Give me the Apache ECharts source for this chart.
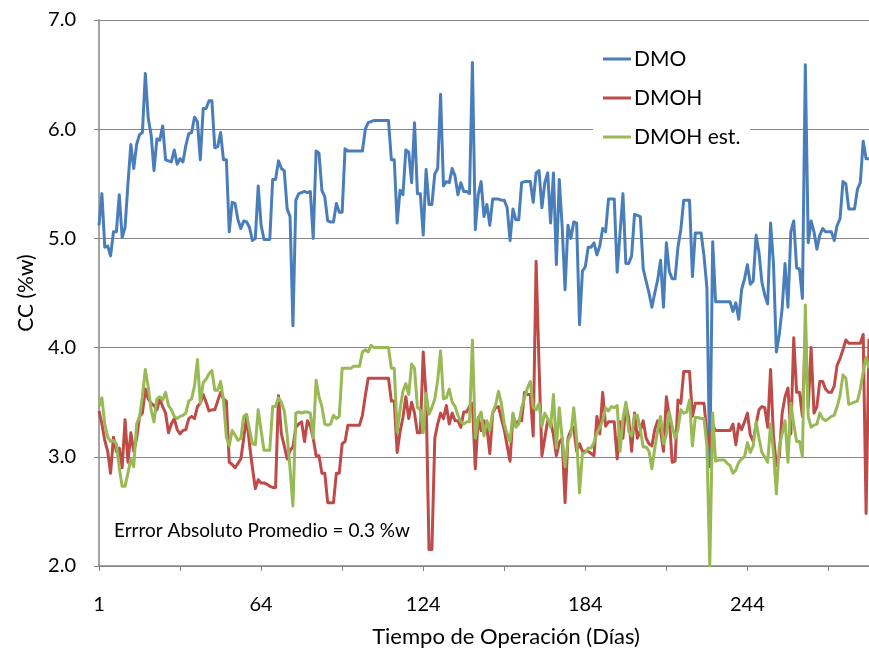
<!DOCTYPE html>
<html>
<head>
<meta charset="utf-8">
<script src="https://cdn.jsdelivr.net/npm/echarts@6/dist/echarts.min.js"></script>
<style>
html,body{margin:0;padding:0;background:#fff;}
#chart{width:869px;height:655px;}
</style>
</head>
<body>
<div id="chart"></div>
<script>
// Operating days (categories; some days have no sample)
const days = [1,
5,6,7,8,9,10,11,12,13,14,15,16,17,18,19,
21,22,23,24,25,26,27,28,29,30,31,32,33,34,
36,37,38,39,40,41,42,43,44,45,46,
48,49,50,51,52,53,54,55,56,57,
59,60,61,62,63,64,
65,66,67,68,69,70,71,72,73,74,75,76,77,78,79,
81,82,83,84,85,86,87,88,89,90,91,92,93,94,
96,97,98,99,100,101,102,103,104,
106,107,108,109,110,111,112,113,114,115,116,
118,119,120,121,122,123,124,
125,126,127,128,129,130,131,132,133,134,135,136,137,
139,140,141,142,143,144,145,146,147,148,149,
151,152,153,154,155,156,157,158,159,160,161,162,
164,165,166,167,168,169,170,171,172,173,174,175,
177,178,179,180,181,182,183,184,
185,186,187,188,189,190,191,192,193,194,195,
197,198,199,200,201,202,203,204,205,206,207,
209,210,211,212,213,214,215,216,217,218,219,220,
222,223,224,225,226,227,228,229,230,231,232,
234,235,236,237,238,239,240,241,242,243,244,
245,246,247,248,249,250,251,252,253,254,255,
257,258,259,260,261,262,263,264,265,266,267,268,269,
271,272,273,274,275,276,277,278,279,280,
282,283,284,285,286,287,288,289];

// Tick labels shown on the x axis
const xTickLabels = ['1','64','124','184','244'];

// DMO
const dmo = [
5.12,5.41,4.92,4.93,4.84,5.06,5.06,5.40,5.01,5.10,
5.50,5.86,5.64,5.86,5.95,5.97,6.51,6.10,5.95,5.62,
5.91,5.90,6.03,5.72,5.71,5.70,5.81,5.68,5.73,5.70,
5.85,5.96,5.97,6.11,6.07,5.72,6.19,6.19,6.26,6.26,
5.83,5.84,5.97,5.72,5.72,5.06,5.33,5.32,5.17,5.09,
5.16,5.15,5.10,4.98,5.00,5.48,5.12,4.99,4.99,4.99,
5.54,5.54,5.71,5.64,5.62,5.27,5.20,4.20,5.35,5.41,
5.42,5.43,5.42,5.43,5.00,5.80,5.78,5.44,5.38,5.16,
5.15,5.15,5.32,5.24,5.24,5.82,5.80,5.80,5.80,5.80,
5.80,5.80,6.00,6.06,6.07,6.08,6.08,6.08,6.08,6.08,
6.08,5.72,5.72,5.14,5.44,5.40,5.81,5.79,5.51,6.06,
5.41,5.41,5.03,5.63,5.31,5.31,5.59,5.64,6.32,5.48,
5.52,5.51,5.64,5.57,5.40,5.51,5.43,5.43,5.41,6.61,
5.08,5.40,5.52,5.20,5.31,5.12,5.36,5.36,5.36,5.35,
5.35,5.28,4.98,5.27,5.17,5.17,5.51,5.52,5.52,5.52,
5.33,5.60,5.62,5.28,5.51,5.60,5.14,5.60,4.76,5.54,
5.11,4.53,5.12,5.00,5.15,5.14,4.21,4.70,4.74,4.92,
4.92,4.96,4.85,4.93,5.09,5.06,5.36,5.36,5.36,4.69,
5.05,5.41,4.77,4.77,4.84,5.22,5.21,5.20,4.72,4.61,
4.50,4.37,4.50,4.62,4.80,4.37,4.96,4.70,4.63,4.63,
4.92,5.08,5.35,5.35,5.35,4.65,5.05,5.05,5.05,4.84,
4.55,2.91,4.97,4.42,4.42,4.42,4.42,4.42,4.42,4.33,
4.41,4.26,4.53,4.63,4.76,4.58,4.61,5.03,4.87,4.60,
4.48,4.40,5.14,4.77,3.96,4.12,4.36,4.77,4.37,5.06,
5.16,4.73,4.72,4.45,6.59,4.96,5.16,5.06,4.90,5.03,
5.09,5.06,5.06,5.06,4.98,5.12,5.18,5.52,5.50,5.27,
5.27,5.27,5.45,5.51,5.89,5.73,5.73];

// DMOH
const dmoh = [
3.42,3.30,3.15,3.05,2.85,3.18,3.05,3.08,2.90,3.34,
2.95,3.22,3.05,3.17,3.37,3.40,3.62,3.53,3.49,3.47,
3.43,3.53,3.46,3.40,3.22,3.30,3.35,3.25,3.21,3.24,
3.25,3.35,3.37,3.35,3.46,3.49,3.57,3.50,3.42,3.43,
3.43,3.51,3.59,3.53,3.51,2.95,2.93,2.90,2.94,2.98,
3.17,3.37,3.11,2.90,2.71,2.79,2.76,2.76,2.75,2.73,
2.72,2.72,3.56,3.21,3.10,2.98,3.06,3.09,3.27,3.30,
3.32,3.14,3.33,3.28,3.17,3.01,3.01,2.85,2.85,2.58,
2.58,2.58,2.85,2.85,3.12,3.14,3.29,3.29,3.29,3.29,
3.29,3.38,3.56,3.72,3.72,3.72,3.72,3.72,3.72,3.72,
3.72,3.51,3.51,3.04,3.23,3.36,3.55,3.35,3.50,3.40,
3.22,3.22,3.96,3.55,2.15,2.15,3.17,3.30,3.40,3.35,
3.47,3.30,3.40,3.33,3.33,3.27,3.41,3.41,3.46,3.49,
2.89,3.36,3.24,3.33,3.27,3.03,3.40,3.45,3.46,3.35,
3.25,3.10,2.96,3.38,3.30,3.33,3.33,3.59,3.57,3.57,
3.19,4.79,3.85,3.01,3.17,3.33,3.32,3.20,3.01,3.13,
3.17,2.58,3.17,3.24,3.27,3.05,3.12,3.05,3.05,3.05,
3.03,3.01,3.37,3.21,3.59,3.28,3.32,3.32,3.32,2.98,
3.32,3.17,3.48,3.35,3.05,3.40,3.17,3.24,3.33,3.17,
3.12,3.10,3.25,3.33,3.24,3.05,3.55,3.37,2.95,2.96,
3.52,3.49,3.78,3.78,3.78,3.37,3.49,3.49,3.49,3.49,
3.21,3.08,3.29,3.24,3.24,3.24,3.24,3.24,3.24,3.30,
3.11,3.30,3.25,3.32,3.40,3.20,3.14,3.30,3.43,3.46,
3.45,3.27,3.80,3.19,2.92,3.00,3.40,3.55,3.63,3.21,
4.09,3.59,3.59,3.37,4.12,3.45,4.00,3.40,3.46,3.69,
3.69,3.62,3.59,3.59,3.65,3.84,3.90,3.98,4.07,4.04,
4.04,4.04,4.04,4.04,4.12,2.48,4.08];

// DMOH est.
const dmohEst = [
3.46,3.54,3.30,3.18,3.14,3.15,3.12,2.90,2.73,2.73,
2.85,2.98,2.91,3.30,3.37,3.55,3.80,3.64,3.43,3.32,
3.53,3.55,3.52,3.59,3.47,3.43,3.37,3.35,3.37,3.38,
3.40,3.51,3.53,3.65,3.89,3.49,3.68,3.71,3.76,3.79,
3.61,3.61,3.69,3.52,3.18,3.10,3.24,3.20,3.15,3.17,
3.37,3.39,3.25,3.12,3.11,3.43,3.24,3.06,3.06,3.06,
3.46,3.46,3.54,3.50,3.42,3.20,2.89,2.55,3.40,3.41,
3.40,3.41,3.41,3.40,3.17,3.70,3.55,3.46,3.30,3.29,
3.30,3.38,3.35,3.37,3.81,3.81,3.81,3.81,3.83,3.83,
3.83,3.96,3.98,3.96,4.02,4.00,4.00,4.00,4.00,4.00,
4.00,3.81,3.81,3.23,3.43,3.60,3.67,3.57,3.85,3.81,
3.45,3.43,3.22,3.58,3.39,3.45,3.53,3.70,3.97,3.53,
3.54,3.62,3.50,3.46,3.38,3.32,3.30,3.32,3.32,4.07,
3.17,3.35,3.41,3.19,3.33,3.24,3.41,3.47,3.60,3.49,
3.30,3.21,3.14,3.40,3.27,3.30,3.45,3.54,3.63,3.69,
3.45,3.43,3.49,3.28,3.40,3.35,3.27,3.57,3.08,3.45,
3.17,2.91,3.15,3.20,3.45,3.17,2.67,3.03,3.04,3.08,
3.08,3.13,3.22,3.27,3.33,3.45,3.42,3.46,3.45,3.47,
3.05,3.35,3.50,3.23,3.19,3.38,3.38,3.25,3.09,3.09,
3.05,2.89,3.08,3.24,3.37,3.12,3.20,3.41,3.28,3.17,
3.25,3.43,3.40,3.41,3.52,3.10,3.36,3.36,3.35,3.35,
3.10,2.00,3.40,2.96,2.97,2.97,2.97,2.94,2.92,2.85,
2.88,2.95,2.98,3.00,3.13,3.04,3.10,3.32,3.17,3.04,
3.00,2.95,3.30,3.05,2.66,3.10,3.21,3.33,2.95,3.49,
3.30,3.14,3.14,3.00,4.39,3.37,3.27,3.29,3.30,3.40,
3.35,3.33,3.35,3.37,3.38,3.46,3.56,3.75,3.72,3.48,
3.49,3.50,3.51,3.62,3.78,3.91,3.81];

const seriesNames = ['DMO', 'DMOH', 'DMOH est.'];
const colors = ['#4A7EBB', '#BE4B48', '#98B954'];
const annotation = 'Errror Absoluto Promedio = 0.3 %w';

const FONT = 'Lato, "Open Sans", sans-serif';
const chart = echarts.init(document.getElementById('chart'), null, {renderer: 'canvas'});

const mk = (name, data, color, z) => ({
  name, type: 'line', data, symbol: 'none', showSymbol: false, z,
  lineStyle: {color, width: 3, join: 'round'},
  itemStyle: {color},
  emphasis: {disabled: true}
});

chart.setOption({
  animation: false,
  backgroundColor: '#ffffff',
  textStyle: {fontFamily: FONT, color: '#000'},
  grid: {left: 99, right: 0, top: 20, bottom: 89, containLabel: false},
  legend: {
    orient: 'vertical', left: 593, top: 43,
    padding: [4, 10, 6, 10],
    backgroundColor: '#ffffff',
    itemGap: 15, itemWidth: 28, itemHeight: 3,
    icon: 'rect',
    textStyle: {fontFamily: FONT, fontSize: 21, color: '#000', lineHeight: 24, padding: [0, 0, 0, -2]},
    data: seriesNames
  },
  xAxis: {
    type: 'category', data: days, boundaryGap: false,
    name: 'Tiempo de Operación (Días)', nameLocation: 'middle', nameGap: 60,
    nameTextStyle: {fontFamily: FONT, fontSize: 22, color: '#000', padding: [0, 0, 0, 44]},
    axisLine: {lineStyle: {color: '#868686', width: 1.5}},
    axisTick: {show: true, interval: 27, length: 5, inside: false, lineStyle: {color: '#868686'}},
    axisLabel: {
      fontFamily: FONT, fontSize: 20, color: '#000', margin: 29,
      interval: (idx, val) => xTickLabels.indexOf(String(val)) >= 0
    },
    splitLine: {show: false}
  },
  yAxis: {
    type: 'value', min: 2, max: 7, interval: 1,
    name: 'CC (%w)', nameLocation: 'middle', nameGap: 54, nameRotate: 90,
    nameTextStyle: {fontFamily: FONT, fontSize: 21, color: '#000'},
    axisLine: {show: true, lineStyle: {color: '#868686', width: 1.5}},
    axisTick: {show: true, length: 5, lineStyle: {color: '#868686'}},
    axisLabel: {fontFamily: FONT, fontSize: 20, color: '#000', margin: 23,
      formatter: v => v.toFixed(1)},
    splitLine: {show: true, lineStyle: {color: '#868686', width: 1}}
  },
  graphic: [{
    type: 'text', left: 114, top: 521, z: 100,
    style: {text: annotation, fontFamily: FONT, fontSize: 19, fill: '#000'}
  }],
  series: [
    mk(seriesNames[0], dmo, colors[0], 2),
    mk(seriesNames[1], dmoh, colors[1], 3),
    mk(seriesNames[2], dmohEst, colors[2], 4)
  ]
});
</script>
</body>
</html>
